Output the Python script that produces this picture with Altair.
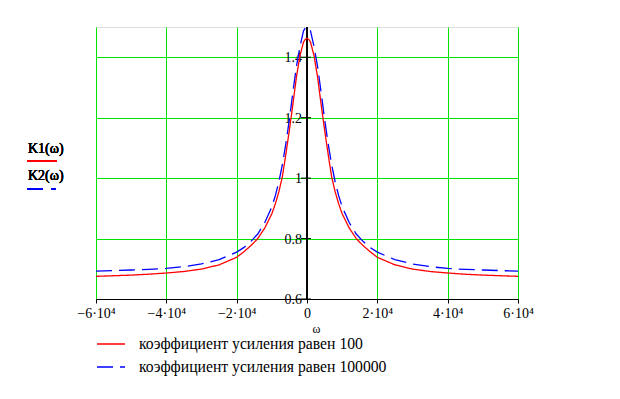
import altair as alt
import pandas as pd

# ---- data ----
omega = [-60000, -55000, -50000, -45000, -40000, -35000, -30000, -25000, -20000,
         -18000, -16000, -14000, -12000, -10000, -9000, -8000, -7000, -6000,
         -5000, -4000, -3000, -2000, -1000, -500, 0, 500, 1000, 2000, 3000, 4000,
         5000, 6000, 7000, 8000, 9000, 10000, 12000, 14000, 16000, 18000, 20000,
         25000, 30000, 35000, 40000, 45000, 50000, 55000, 60000]
k1 = [0.675, 0.677, 0.679, 0.682, 0.686, 0.691, 0.699, 0.713, 0.738,
      0.756, 0.776, 0.800, 0.835, 0.882, 0.915, 0.955, 1.005, 1.080,
      1.160, 1.245, 1.335, 1.405, 1.450, 1.459, 1.463, 1.459, 1.450, 1.405, 1.335, 1.245,
      1.160, 1.080, 1.005, 0.955, 0.915, 0.882, 0.835, 0.800, 0.776, 0.756, 0.738,
      0.713, 0.699, 0.691, 0.686, 0.682, 0.679, 0.677, 0.675]
k2 = [0.692, 0.694, 0.696, 0.698, 0.701, 0.707, 0.716, 0.730, 0.755,
      0.770, 0.790, 0.815, 0.853, 0.905, 0.942, 0.988, 1.045, 1.115,
      1.195, 1.285, 1.370, 1.435, 1.487, 1.497, 1.500, 1.497, 1.487, 1.435, 1.370, 1.285,
      1.195, 1.115, 1.045, 0.988, 0.942, 0.905, 0.853, 0.815, 0.790, 0.770, 0.755,
      0.730, 0.716, 0.707, 0.701, 0.698, 0.696, 0.694, 0.692]

series_names = ["коэффициент усиления равен 100", "коэффициент усиления равен 100000"]
series_colors = ["#ff0000", "#0000ff"]

x_tick_values = [-60000, -40000, -20000, 0, 20000, 40000, 60000]
x_tick_labels = ["−6·10⁴", "−4·10⁴", "−2·10⁴", "0", "2·10⁴", "4·10⁴", "6·10⁴"]
y_tick_values = [0.6, 0.8, 1.0, 1.2, 1.4]
y_tick_labels = ["0.6", "0.8", "1", "1.2", "1.4"]

# ---- tables ----
df = pd.DataFrame({
    "omega": omega * 2,
    "K": k1 + k2,
    "series": [series_names[0]] * len(omega) + [series_names[1]] * len(omega),
})
df_k1 = df[df.series == series_names[0]]
df_k2 = df[df.series == series_names[1]]
yt = pd.DataFrame({"v": y_tick_values, "lab": y_tick_labels})

W, H = 422, 272
FONT = "'Liberation Serif', 'Times New Roman', 'DejaVu Serif', serif"
GREEN = "#00e400"

xs = alt.Scale(domain=[-60000, 60000], nice=False, zero=False)
ys = alt.Scale(domain=[0.6, 1.5], nice=False, zero=False)

label_expr = " : ".join(
    f"datum.value == {v} ? '{l}'" for v, l in zip(x_tick_values, x_tick_labels)
) + " : ''"

x_axis = alt.Axis(values=x_tick_values, labelExpr=label_expr, grid=True,
                  gridColor=GREEN, gridWidth=1, domainColor="black", domainWidth=1,
                  tickColor="black", tickSize=4, labelFont=FONT, labelFontSize=14,
                  labelColor="black", labelPadding=3, labelFlush=False,
                  labelOverlap=False, title="ω", titleFont=FONT, titleFontSize=12,
                  titleFontWeight="normal", titleColor="black", titleX=220,
                  titleY=33, titleBaseline="alphabetic", titleAlign="center")
y_axis = alt.Axis(values=y_tick_values, grid=True, gridColor=GREEN, gridWidth=1,
                  labels=False, ticks=False, domain=False, title=None)

legend = alt.Legend(orient="none", legendX=0, legendY=302, title=None,
                    symbolType="stroke", symbolSize=784, symbolStrokeWidth=1.3,
                    labelFont=FONT, labelFontSize=15.7, labelColor="black",
                    labelOffset=13, rowPadding=-8, padding=0, labelLimit=400)
color = alt.Color("series:N", scale=alt.Scale(domain=series_names, range=series_colors),
                  legend=legend)
dash = alt.StrokeDash("series:N",
                      scale=alt.Scale(domain=series_names, range=[[1, 0], [16, 7]]),
                      legend=legend)

grid = alt.Chart(df).mark_line(opacity=0).encode(
    x=alt.X("omega:Q", scale=xs, axis=x_axis),
    y=alt.Y("K:Q", scale=ys, axis=y_axis),
)

yaxis_line = alt.Chart(yt).mark_rule(color="black", strokeWidth=1).encode(
    x=alt.datum(0, scale=xs)
)
yaxis_ticks = alt.Chart(yt).mark_rule(color="black", strokeWidth=1, xOffset=-6,
                                      x2Offset=4).encode(
    x=alt.datum(0, scale=xs), x2=alt.datum(0), y=alt.Y("v:Q", scale=ys)
)
yaxis_labels = alt.Chart(yt).mark_text(align="right", baseline="middle", dx=-5, dy=1,
                                       font=FONT, fontSize=14, color="black").encode(
    x=alt.datum(0, scale=xs), y=alt.Y("v:Q", scale=ys), text="lab:N"
)

line2 = alt.Chart(df_k2).mark_line(strokeWidth=1.3, clip=True).encode(
    x=alt.X("omega:Q", scale=xs), y=alt.Y("K:Q", scale=ys), color=color, strokeDash=dash
)
line1 = alt.Chart(df_k1).mark_line(strokeWidth=1.3, clip=True).encode(
    x=alt.X("omega:Q", scale=xs), y=alt.Y("K:Q", scale=ys), color=color, strokeDash=dash
)

# y-axis title block (Mathcad style): expressions with line samples beneath
t1 = alt.Chart(yt).mark_text(align="left", baseline="alphabetic", font=FONT,
                             fontSize=14, fontWeight="normal", color="black").encode(
    x=alt.value(-68), y=alt.value(126), text=alt.value("K1(ω)"))
t2 = alt.Chart(yt).mark_text(align="left", baseline="alphabetic", font=FONT,
                             fontSize=14, fontWeight="normal", color="black").encode(
    x=alt.value(-68), y=alt.value(153), text=alt.value("K2(ω)"))
s1 = alt.Chart(yt).mark_rule(color="#ff0000", strokeWidth=1.3).encode(
    x=alt.value(-69), x2=alt.value(-39), y=alt.value(134))
s2 = alt.Chart(yt).mark_rule(color="#0000ff", strokeWidth=1.3, strokeDash=[16, 8]).encode(
    x=alt.value(-69), x2=alt.value(-40), y=alt.value(162))

chart = alt.layer(grid, yaxis_line, yaxis_ticks, yaxis_labels, t1, t2, s1, s2,
                  line2, line1).properties(
    width=W, height=H,
    autosize=alt.AutoSizeParams(type="none"),
    padding={"left": 88, "top": 19, "right": 94, "bottom": 92},
).resolve_scale(color="shared", strokeDash="shared").configure_view(
    stroke=None
).configure(background="white")

chart.save("out.html", embed_options={"renderer": "svg", "actions": False})
